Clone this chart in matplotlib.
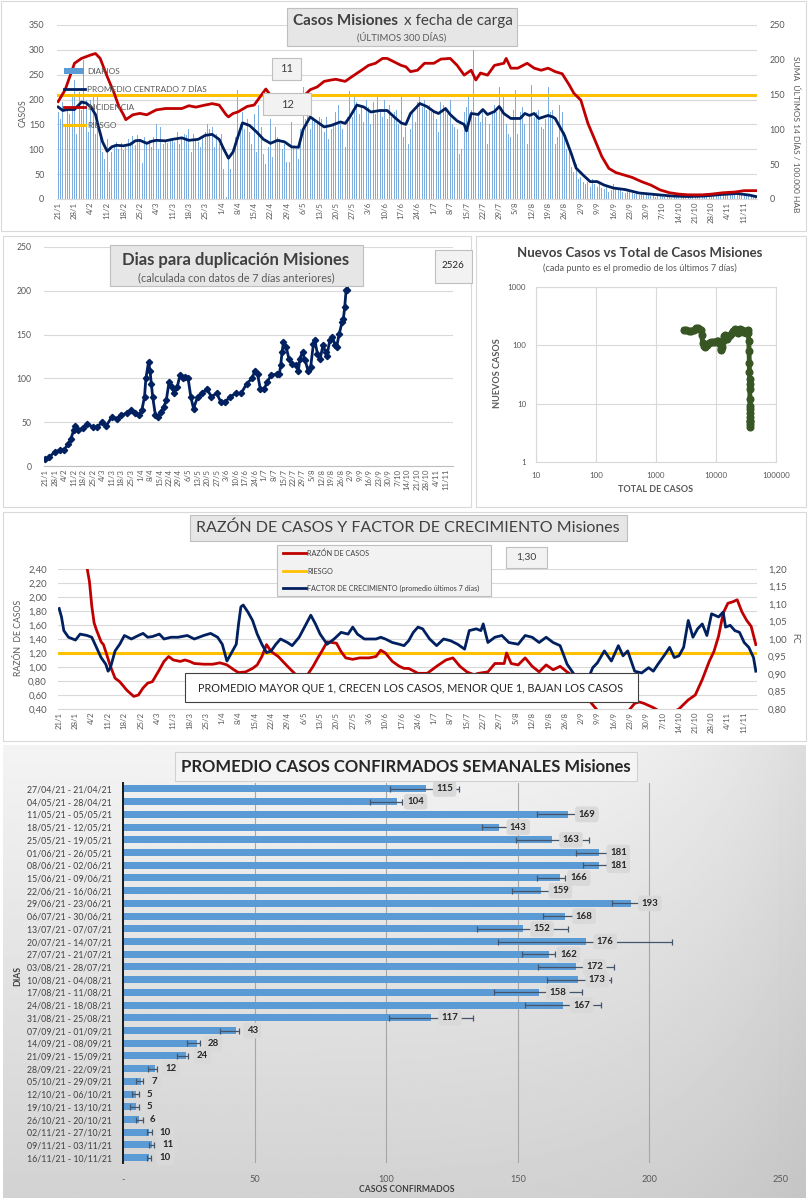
import numpy as np
import matplotlib
matplotlib.use("Agg")
import matplotlib.pyplot as plt
from matplotlib.patches import Rectangle
from matplotlib.lines import Line2D
from matplotlib.ticker import NullLocator
from datetime import datetime, timedelta

plt.rcParams["font.family"] = ["Lato", "DejaVu Sans"]

# ---------------- DATA ----------------
# daily cases from 21/1 (300 days)
daily = [
    175, 160, 195, 150, 185, 170, 210,   # 21/1
    240, 130, 215, 180, 280, 200, 135,   # 28/1
    200, 210, 130, 205, 125, 95, 80,     # 4/2
    120, 55, 95, 110, 115, 100, 112,     # 11/2
    98, 105, 120, 115, 126, 108, 128,    # 18/2
    120, 72, 125, 110, 118, 105, 125,    # 25/2
    150, 100, 145, 110, 115, 112, 120,   # 4/3
    118, 115, 135, 110, 125, 130, 128,   # 11/3
    140, 95, 130, 120, 115, 105, 125,    # 18/3
    135, 150, 140, 145, 105, 130, 110,   # 25/3
    130, 60, 5, 85, 60, 100, 125,        # 1/4
    220, 150, 175, 140, 160, 135, 110,   # 8/4
    170, 95, 190, 145, 90, 70, 105,      # 15/4
    160, 85, 145, 125, 120, 100, 110,    # 22/4
    75, 75, 155, 105, 100, 80, 140,      # 29/4
    225, 160, 180, 140, 165, 155, 150,   # 6/5
    165, 160, 135, 165, 120, 140, 150,   # 13/5
    175, 190, 150, 140, 105, 165, 218,   # 20/5
    165, 212, 195, 170, 190, 155, 200,   # 27/5
    185, 150, 195, 170, 205, 180, 165,   # 3/6
    200, 160, 190, 165, 175, 180, 150,   # 10/6
    205, 125, 145, 110, 140, 175, 155,   # 17/6
    195, 210, 185, 200, 180, 190, 175,   # 24/6
    180, 160, 135, 195, 190, 185, 170,   # 1/7
    200, 150, 145, 140, 90, 100, 175,    # 8/7
    185, 210, 180, 300, 165, 175, 155,   # 15/7
    180, 165, 110, 150, 170, 190, 175,   # 22/7
    225, 185, 205, 150, 130, 125, 180,   # 29/7
    220, 130, 175, 185, 150, 110, 165,   # 5/8
    230, 165, 175, 180, 145, 140, 160,   # 12/8
    225, 175, 180, 110, 125, 190, 175,   # 19/8
    135, 100, 95, 65, 55, 70, 40,        # 26/8
    45, 35, 30, 35, 25, 40, 30,          # 2/9
    25, 30, 22, 20, 28, 15, 18,          # 9/9
    30, 22, 18, 20, 15, 12, 16,          # 16/9
    15, 12, 10, 14, 8, 10, 9,            # 23/9
    9, 8, 6, 10, 5, 7, 8,                # 30/9
    6, 5, 4, 7, 3, 5, 4,                 # 7/10
    5, 4, 6, 3, 8, 5, 4,                 # 14/10
    10, 5, 6, 7, 8, 5, 9,                # 21/10
    12, 9, 8, 11, 10, 13, 9,             # 28/10
    12, 10, 14, 9, 11, 10, 12,           # 4/11
    10, 9, 11, 8, 7, 6]                  # 11/11

avg_dates = ["21/1", "23/1", "25/1", "28/1", "31/1", "2/2", "4/2", "6/2", "7/2", "9/2",
             "11/2", "13/2", "15/2", "18/2", "21/2", "23/2", "25/2", "28/2", "2/3", "4/3",
             "8/3", "11/3", "15/3", "18/3", "22/3", "25/3", "28/3", "31/3", "2/4", "4/4",
             "6/4", "8/4", "10/4", "13/4", "16/4", "19/4", "22/4", "25/4", "28/4", "1/5",
             "4/5", "6/5", "9/5", "12/5", "15/5", "18/5", "22/5", "24/5", "26/5", "29/5",
             "1/6", "4/6", "8/6", "11/6", "14/6", "17/6", "19/6", "21/6", "25/6", "28/6",
             "1/7", "3/7", "6/7", "8/7", "11/7", "14/7", "15/7", "17/7", "20/7", "22/7",
             "24/7", "27/7", "29/7", "31/7", "3/8", "7/8", "9/8", "11/8", "13/8", "15/8",
             "19/8", "21/8", "22/8", "24/8", "26/8", "29/8", "31/8", "3/9", "6/9", "9/9",
             "12/9", "16/9", "21/9", "27/9", "4/10", "11/10", "18/10", "25/10", "1/11", "8/11",
             "13/11", "16/11"]
avg_vals = [185, 178, 180, 180, 195, 193, 185, 170, 150, 115,
            96, 105, 108, 107, 110, 117, 118, 112, 116, 118,
            117, 120, 123, 118, 120, 128, 130, 120, 100, 82,
            95, 125, 153, 148, 135, 120, 112, 118, 115, 105,
            104, 140, 165, 155, 145, 148, 155, 152, 165, 189,
            185, 175, 178, 178, 165, 153, 150, 172, 192, 186,
            176, 172, 182, 170, 157, 150, 137, 172, 170, 180,
            170, 176, 186, 172, 162, 162, 172, 168, 172, 162,
            168, 165, 162, 145, 128, 90, 62, 48, 35, 35,
            28, 22, 19, 12, 9, 6, 5, 6, 9, 11,
            8, 5]

inc_dates = ["21/1", "24/1", "28/1", "31/1", "4/2", "6/2", "8/2", "11/2", "14/2", "16/2",
             "18/2", "19/2", "22/2", "25/2", "28/2", "4/3", "8/3", "11/3", "15/3", "18/3",
             "21/3", "25/3", "28/3", "31/3", "3/4", "4/4", "6/4", "8/4", "12/4", "15/4",
             "18/4", "20/4", "22/4", "28/4", "2/5", "6/5", "9/5", "12/5", "15/5", "18/5",
             "20/5", "24/5", "27/5", "31/5", "3/6", "6/6", "9/6", "11/6", "14/6", "17/6",
             "19/6", "21/6", "24/6", "27/6", "1/7", "4/7", "8/7", "11/7", "14/7", "17/7",
             "19/7", "21/7", "24/7", "27/7", "31/7", "1/8", "3/8", "6/8", "10/8", "13/8",
             "16/8", "19/8", "22/8", "25/8", "28/8", "30/8", "2/9", "5/9", "8/9", "11/9",
             "14/9", "17/9", "21/9", "24/9", "28/9", "2/10", "6/10", "10/10", "14/10", "18/10",
             "24/10", "28/10", "2/11", "7/11", "11/11", "16/11"]
inc_vals = [140, 157, 195, 202, 207, 209, 202, 176, 152, 133,
            121, 114, 121, 123, 121, 128, 130, 130, 130, 134,
            132, 135, 137, 135, 121, 118, 123, 125, 133, 135,
            149, 158, 149, 135, 138, 147, 157, 161, 169, 171,
            172, 169, 176, 185, 192, 195, 202, 202, 197, 192,
            190, 183, 185, 195, 195, 201, 202, 192, 178, 185,
            171, 181, 178, 192, 195, 202, 188, 188, 195, 188,
            185, 188, 183, 180, 164, 152, 142, 109, 85, 61,
            44, 38, 34, 31, 25, 20, 13, 9, 7, 6,
            6, 7, 9, 10, 12, 12]
riesgo_inc = 150

dbl_dates = ["21/1", "24/1", "28/1", "1/2", "4/2", "7/2", "9/2", "11/2", "12/2", "14/2",
             "18/2", "21/2", "25/2", "28/2", "4/3", "7/3", "11/3", "15/3", "18/3", "22/3",
             "25/3", "28/3", "31/3", "2/4", "4/4", "5/4", "7/4", "8/4", "9/4", "10/4",
             "12/4", "14/4", "16/4", "18/4", "20/4", "22/4", "24/4", "26/4", "28/4", "30/4",
             "2/5", "4/5", "6/5", "8/5", "10/5", "13/5", "16/5", "20/5", "23/5", "27/5",
             "30/5", "2/6", "6/6", "10/6", "14/6", "18/6", "22/6", "24/6", "26/6", "28/6",
             "1/7", "3/7", "6/7", "10/7", "12/7", "13/7", "14/7", "15/7", "17/7", "19/7",
             "21/7", "24/7", "26/7", "27/7", "29/7", "31/7", "2/8", "4/8", "6/8", "7/8",
             "9/8", "11/8", "13/8", "15/8", "16/8", "18/8", "20/8", "22/8", "23/8", "25/8",
             "27/8", "28/8", "29/8", "30/8", "31/8", "1/9"]
dbl_vals = [7.6, 10, 16, 18, 18.6, 25, 31, 41, 46, 41,
            43, 48, 44.5, 44.5, 50, 46, 56, 54, 58, 60.5,
            64, 60.5, 58, 63.5, 79, 100, 119, 109, 94, 79,
            58, 56, 62, 67, 75, 96, 90, 83, 90, 103.5,
            100, 101.6, 100, 79, 65.5, 79, 83, 88, 79, 83,
            73, 73, 79, 83, 83, 94, 100, 109, 105, 88,
            88, 96, 103.5, 105, 105, 115, 130, 141.5, 136, 122.5,
            117, 115, 109, 122.5, 130, 120.6, 109, 113, 139.6, 143.5,
            128, 122.5, 137.7, 130, 126, 143.5, 147, 137.7, 136, 151,
            164, 168, 181.5, 200.5, 200.5, 2526]
dbl_current = "2526"

sc_total = [2900, 3200, 3500, 3900, 4300, 4700, 5000, 5300, 5600, 5800,
            6000, 6200, 6600, 7100, 7700, 8300, 9000, 9700, 10400, 11000,
            11500, 11900, 12200, 12500, 12900, 13400, 14000, 14700, 15500, 16300,
            17200, 18200, 19300, 20500, 21700, 23000, 24300, 25600, 27000, 28400,
            29800, 31200, 32600, 33800, 34600, 35200, 35600, 35900, 36100, 36300,
            36450, 36600, 36700, 36800, 36900, 37000, 37100, 37200, 37300, 37400, 37500]
sc_new = [185, 180, 178, 176, 182, 195, 198, 190, 185, 150,
          110, 98, 95, 102, 108, 112, 115, 112, 118, 120,
          105, 88, 82, 95, 120, 145, 150, 135, 130, 145,
          150, 160, 175, 190, 175, 165, 180, 190, 180, 170,
          175, 165, 178, 180, 160, 120, 80, 50, 35, 27,
          22, 18, 12, 8, 6, 5, 4.5, 4, 5, 7, 9]

raz_dates = ["1/2", "2/2", "3/2", "4/2", "5/2", "6/2", "8/2", "9/2", "10/2", "12/2",
             "14/2", "16/2", "19/2", "22/2", "24/2", "26/2", "28/2", "2/3", "5/3", "7/3",
             "9/3", "11/3", "14/3", "16/3", "18/3", "20/3", "24/3", "28/3", "31/3", "3/4",
             "6/4", "8/4", "11/4", "14/4", "16/4", "18/4", "20/4", "22/4", "25/4", "27/4",
             "29/4", "2/5", "4/5", "6/5", "8/5", "10/5", "12/5", "14/5", "16/5", "18/5",
             "20/5", "22/5", "24/5", "27/5", "30/5", "3/6", "6/6", "8/6", "10/6", "13/6",
             "16/6", "18/6", "20/6", "24/6", "28/6", "2/7", "6/7", "9/7", "12/7", "15/7",
             "18/7", "20/7", "24/7", "27/7", "31/7", "1/8", "3/8", "6/8", "9/8", "12/8",
             "15/8", "18/8", "21/8", "24/8", "27/8", "30/8", "3/9", "6/9", "9/9", "15/9",
             "21/9", "25/9", "27/9", "29/9", "3/10", "6/10", "10/10", "14/10", "18/10", "21/10",
             "24/10", "27/10", "29/10", "31/10", "2/11", "4/11", "6/11", "8/11", "10/11", "12/11",
             "14/11", "16/11"]
raz_vals = [2.7, 2.41, 2.22, 1.87, 1.63, 1.53, 1.36, 1.32, 1.22, 1.01,
            0.84, 0.79, 0.67, 0.58, 0.60, 0.70, 0.77, 0.79, 0.96, 1.08,
            1.15, 1.10, 1.08, 1.10, 1.08, 1.05, 1.04, 1.04, 1.06, 1.03,
            0.96, 0.92, 0.93, 0.98, 1.03, 1.15, 1.32, 1.22, 1.15, 1.08,
            1.01, 0.91, 0.82, 0.84, 0.91, 1.01, 1.13, 1.24, 1.36, 1.35,
            1.34, 1.22, 1.13, 1.11, 1.13, 1.13, 1.15, 1.24, 1.20, 1.08,
            1.01, 0.98, 0.98, 0.91, 0.91, 1.01, 1.10, 1.13, 1.01, 0.93,
            0.89, 0.91, 0.93, 1.05, 1.05, 1.20, 1.05, 1.03, 1.13, 1.01,
            0.93, 1.03, 0.96, 1.01, 0.93, 0.86, 0.67, 0.50, 0.38, 0.30,
            0.32, 0.48, 0.50, 0.48, 0.42, 0.36, 0.33, 0.40, 0.53, 0.60,
            0.82, 1.08, 1.22, 1.44, 1.77, 1.91, 1.93, 1.96, 1.79, 1.67,
            1.58, 1.32]
riesgo_raz = 1.2

fc_dates = ["21/1", "22/1", "23/1", "25/1", "28/1", "30/1", "2/2", "4/2", "6/2", "8/2",
            "10/2", "11/2", "12/2", "14/2", "16/2", "18/2", "21/2", "24/2", "26/2", "28/2",
            "2/3", "5/3", "7/3", "10/3", "13/3", "17/3", "20/3", "24/3", "27/3", "30/3",
            "1/4", "3/4", "5/4", "7/4", "8/4", "9/4", "10/4", "12/4", "14/4", "16/4",
            "18/4", "20/4", "22/4", "24/4", "26/4", "29/4", "1/5", "4/5", "7/5", "9/5",
            "11/5", "13/5", "16/5", "19/5", "22/5", "25/5", "27/5", "29/5", "1/6", "3/6",
            "6/6", "8/6", "10/6", "13/6", "16/6", "18/6", "20/6", "22/6", "24/6", "26/6",
            "29/6", "2/7", "5/7", "8/7", "11/7", "14/7", "16/7", "19/7", "21/7", "22/7",
            "24/7", "27/7", "30/7", "2/8", "6/8", "9/8", "12/8", "15/8", "18/8", "21/8",
            "24/8", "27/8", "30/8", "2/9", "4/9", "7/9", "9/9", "12/9", "15/9", "18/9",
            "20/9", "22/9", "25/9", "28/9", "1/10", "3/10", "5/10", "8/10", "10/10", "12/10",
            "14/10", "16/10", "18/10", "20/10", "22/10", "24/10", "26/10", "28/10", "31/10", "2/11",
            "3/11", "5/11", "7/11", "9/11", "11/11", "13/11", "15/11", "16/11"]
fc_vals = [1.087, 1.063, 1.024, 1.005, 0.997, 1.014, 1.010, 1.005, 0.976, 0.947,
           0.928, 0.908, 0.918, 0.966, 0.985, 1.010, 1.000, 1.010, 1.016, 1.005,
           1.007, 1.014, 1.000, 1.005, 1.005, 1.010, 1.000, 1.010, 1.016, 1.005,
           0.985, 0.937, 0.961, 0.985, 1.043, 1.092, 1.097, 1.077, 1.053, 1.014,
           0.985, 0.961, 0.966, 0.985, 1.000, 0.990, 0.981, 1.005, 1.043, 1.068,
           1.043, 1.014, 0.985, 1.000, 1.019, 1.014, 1.034, 1.014, 1.000, 1.000,
           1.000, 1.005, 1.000, 0.990, 0.985, 0.981, 0.995, 1.019, 1.034, 1.029,
           1.000, 0.981, 1.000, 0.995, 0.985, 0.971, 1.024, 1.029, 1.024, 1.043,
           0.990, 1.005, 1.010, 0.990, 0.985, 1.010, 1.005, 0.990, 1.005, 0.990,
           0.981, 0.928, 0.899, 0.879, 0.870, 0.918, 0.932, 0.966, 0.937, 0.981,
           0.952, 0.966, 0.908, 0.903, 0.918, 0.908, 0.928, 0.956, 0.976, 0.947,
           0.952, 0.976, 1.053, 1.005, 1.029, 1.043, 1.010, 1.072, 1.063, 1.077,
           1.034, 1.039, 1.024, 1.019, 0.990, 0.976, 0.947, 0.908]
raz_current = "1,30"

wk_labels = ["27/04/21 - 21/04/21", "04/05/21 - 28/04/21", "11/05/21 - 05/05/21",
             "18/05/21 - 12/05/21", "25/05/21 - 19/05/21", "01/06/21 - 26/05/21",
             "08/06/21 - 02/06/21", "15/06/21 - 09/06/21", "22/06/21 - 16/06/21",
             "29/06/21 - 23/06/21", "06/07/21 - 30/06/21", "13/07/21 - 07/07/21",
             "20/07/21 - 14/07/21", "27/07/21 - 21/07/21", "03/08/21 - 28/07/21",
             "10/08/21 - 04/08/21", "17/08/21 - 11/08/21", "24/08/21 - 18/08/21",
             "31/08/21 - 25/08/21", "07/09/21 - 01/09/21", "14/09/21 - 08/09/21",
             "21/09/21 - 15/09/21", "28/09/21 - 22/09/21", "05/10/21 - 29/09/21",
             "12/10/21 - 06/10/21", "19/10/21 - 13/10/21", "26/10/21 - 20/10/21",
             "02/11/21 - 27/10/21", "09/11/21 - 03/11/21", "16/11/21 - 10/11/21"]
wk_vals = [115, 104, 169, 143, 163, 181, 181, 166, 159, 193, 168, 152, 176, 162, 172,
           173, 158, 167, 117, 43, 28, 24, 12, 7, 5, 5, 6, 10, 11, 10]
wk_low = [101.5, 94, 157.4, 136.5, 149.3, 172, 174.6, 157.4, 147.7, 185.7, 159.7, 134.6,
          142.4, 151.5, 157.8, 161, 141, 152.9, 101, 36.9, 24.4, 20.4, 9.6, 4.8, 3.3, 2.7,
          4.8, 9, 10, 9]
wk_high = [127.8, 106, 180, 147, 177, 184, 184, 168, 169.6, 196, 171, 169.2, 208.7, 164,
           186.7, 185.4, 174.5, 181.5, 133, 44.2, 29.3, 24.8, 12.8, 7.7, 6.2, 6.2, 7.5,
           10.9, 11.8, 10.5]

box_top_a = "11"
box_top_b = "12"

# ---------------- HELPERS ----------------
W, H = 808, 1200
fig = plt.figure(figsize=(W / 100, H / 100), dpi=100)
fig.patch.set_facecolor("white")

GRAY = "#595959"
DARK = "#404040"
NAVY = "#002060"
RED = "#C00000"
ORANGE = "#FFC000"
GRID = "#d9d9d9"
BASE = datetime(2021, 1, 21)


def fx(px):
    return px / W


def fy(py):
    return 1 - py / H


def axes_px(l, t, r, b, **kw):
    return fig.add_axes([l / W, 1 - b / H, (r - l) / W, (b - t) / H], **kw)


def rect_px(l, t, r, b, fc="none", ec="#bfbfbf", lw=0.8, z=2):
    fig.add_artist(Rectangle((fx(l), fy(b)), (r - l) / W, (b - t) / H,
                             transform=fig.transFigure, facecolor=fc,
                             edgecolor=ec, lw=lw, zorder=z))


def text_px(x, y, s, **kw):
    kw.setdefault("color", GRAY)
    kw.setdefault("ha", "center")
    kw.setdefault("va", "center")
    kw.setdefault("zorder", 4)
    fig.text(fx(x), fy(y), s, **kw)


def hline_px(x0, x1, y, color, lw):
    fig.add_artist(Line2D([fx(x0), fx(x1)], [fy(y), fy(y)],
                          transform=fig.transFigure, color=color, lw=lw, zorder=3))


def to_idx(labels):
    return np.array([(datetime.strptime(s + "/2021", "%d/%m/%Y") - BASE).days
                     for s in labels], dtype=float)


tick_pos = list(range(0, 295, 7))
tick_lab = []
for k in tick_pos:
    d = BASE + timedelta(days=k)
    tick_lab.append(f"{d.day}/{d.month}")


def date_axis(ax, left=-0.5):
    ax.set_xlim(left, 299.5)
    ax.set_xticks(tick_pos)
    ax.set_xticklabels(tick_lab, rotation=90, fontsize=5.6, color=GRAY)
    ax.tick_params(axis="x", length=0, pad=2)


# ---------------- PANEL 1 ----------------
rect_px(1, 1, 806, 231, ec=GRID, z=1)
ax1 = axes_px(57, 25, 757, 199)
ax1.bar(np.arange(len(daily)), daily, width=0.55, color="#7DAEDF", zorder=2)
ax1.plot(to_idx(avg_dates), avg_vals, color=NAVY, lw=2, zorder=3)
ax1.set_ylim(0, 350)
ax1.set_yticks(range(0, 351, 50))
ax1.grid(axis="y", color=GRID, lw=0.8)
ax1.set_axisbelow(True)
date_axis(ax1)
ax1.tick_params(axis="y", labelsize=6.5, colors=GRAY, length=0, pad=9)
for s in ["top", "left", "right"]:
    ax1.spines[s].set_visible(False)
ax1.spines["bottom"].set_color(GRID)
ax1r = ax1.twinx()
ax1r.set_ylim(0, 250)
ax1r.set_yticks(range(0, 251, 50))
ax1r.axhline(riesgo_inc, color=ORANGE, lw=2.2)
ax1r.plot(to_idx(inc_dates), inc_vals, color=RED, lw=2)
ax1r.tick_params(axis="y", labelsize=6.5, colors=GRAY, length=0, pad=9)
for s in ax1r.spines.values():
    s.set_visible(False)

rect_px(287, 8, 517, 46, fc="#e7e6e6", ec="#bfbfbf")
text_px(398, 21, "Casos Misiones", fontsize=11, fontweight="bold", color=DARK, ha="right")
text_px(404, 21, "x fecha de carga", fontsize=11, color=DARK, ha="left")
text_px(402, 37, "(ÚLTIMOS 300 DÍAS)", fontsize=6.8)
text_px(23, 113, "CASOS", fontsize=6.2, rotation=90)
text_px(796, 134, "SUMA  ÚLTIMOS 14 DÍAS / 100.000 HAB", fontsize=6, rotation=270)

fig.add_artist(Rectangle((fx(64), fy(74)), 20 / W, 6 / H, transform=fig.transFigure,
                         facecolor="#5B9BD5", edgecolor="none", zorder=3))
hline_px(64, 85, 89, NAVY, 2)
hline_px(64, 85, 107, RED, 2)
hline_px(64, 85, 125, ORANGE, 2.2)
for yy, lab in [(71, "DIARIOS"), (89, "PROMEDIO CENTRADO 7 DÍAS"),
                (107, "INCIDENCIA"), (125, "RIESGO")]:
    text_px(87, yy, lab, fontsize=6, ha="left")

rect_px(272, 58, 301, 80, fc="#f2f2f2", ec="#bfbfbf")
text_px(286.5, 69, box_top_a, fontsize=8, color=DARK)
rect_px(263, 93, 311, 115, fc="#f2f2f2", ec="#bfbfbf")
text_px(287, 104, box_top_b, fontsize=8, color=DARK)

# ---------------- PANEL 2 ----------------
rect_px(3, 236, 471, 507, ec=GRID, z=1)
ax2 = axes_px(44, 247, 453, 466)
ax2.plot(to_idx(dbl_dates), dbl_vals, color=NAVY, lw=2, marker="D", ms=3.2)
ax2.set_ylim(0, 250)
ax2.set_yticks(range(0, 251, 50))
ax2.grid(axis="y", color=GRID, lw=0.8)
ax2.set_axisbelow(True)
date_axis(ax2, left=-0.8)
ax2.tick_params(axis="y", labelsize=6.2, colors=GRAY, length=0, pad=9)
for s in ["top", "left", "right"]:
    ax2.spines[s].set_visible(False)
ax2.spines["bottom"].set_color("#bfbfbf")
rect_px(110, 245, 363, 286, fc="#e7e6e6", ec="#bfbfbf")
text_px(236, 260, "Dias para duplicación Misiones", fontsize=12, fontweight="bold", color=DARK)
text_px(236, 278, "(calculada con datos de 7 días anteriores)", fontsize=7.8)
rect_px(435, 250, 472, 283, fc="#f2f2f2", ec="#bfbfbf")
text_px(453, 266, dbl_current, fontsize=7, color="#262626")

# ---------------- PANEL 3 ----------------
rect_px(476, 236, 806, 507, ec=GRID, z=1)
ax3 = axes_px(536, 287, 776, 462)
ax3.set_xscale("log")
ax3.set_yscale("log")
ax3.plot(sc_total, sc_new, color="#375623", lw=3.5, marker="o", ms=4.8)
ax3.set_xlim(10, 100000)
ax3.set_ylim(1, 1000)
ax3.set_xticks([10, 100, 1000, 10000, 100000])
ax3.set_xticklabels(["10", "100", "1000", "10000", "100000"])
ax3.set_yticks([1, 10, 100, 1000])
ax3.set_yticklabels(["1", "10", "100", "1000"])
ax3.xaxis.set_minor_locator(NullLocator())
ax3.yaxis.set_minor_locator(NullLocator())
ax3.grid(which="major", color=GRID, lw=0.8)
ax3.set_axisbelow(True)
ax3.tick_params(labelsize=5.8, colors=GRAY, length=0, pad=7)
for s in ax3.spines.values():
    s.set_color(GRID)
text_px(640, 253, "Nuevos Casos vs Total de Casos Misiones", fontsize=9.5,
        fontweight="bold", color=DARK)
text_px(640, 268, "(cada punto es el promedio de los últimos 7 días)", fontsize=6.6)
text_px(656, 489, "TOTAL DE CASOS", fontsize=6.5, fontweight="bold")
text_px(498, 373, "NUEVOS CASOS", fontsize=6.6, fontweight="bold", rotation=90)

# ---------------- PANEL 4 ----------------
rect_px(3, 512, 806, 741, ec=GRID, z=1)
ax4 = axes_px(58, 569, 757, 709)
ax4.plot(to_idx(raz_dates), raz_vals, color=RED, lw=2, zorder=3)
ax4.axhline(riesgo_raz, color=ORANGE, lw=2.2, zorder=2)
ax4.set_ylim(0.4, 2.4)
yt = np.round(np.arange(0.4, 2.41, 0.2), 2)
ax4.set_yticks(yt)
ax4.set_yticklabels([f"{v:.2f}".replace(".", ",") for v in yt])
ax4.grid(axis="y", color=GRID, lw=0.8)
ax4.set_axisbelow(True)
date_axis(ax4)
ax4.tick_params(axis="y", labelsize=6.8, colors=GRAY, length=0, pad=8)
for s in ["top", "left", "right"]:
    ax4.spines[s].set_visible(False)
ax4.spines["bottom"].set_color(GRID)
ax4r = ax4.twinx()
ax4r.plot(to_idx(fc_dates), fc_vals, color=NAVY, lw=2)
ax4r.set_ylim(0.8, 1.2)
yt2 = np.round(np.arange(0.8, 1.201, 0.05), 2)
ax4r.set_yticks(yt2)
ax4r.set_yticklabels([f"{v:.2f}".replace(".", ",") for v in yt2])
ax4r.tick_params(axis="y", labelsize=6.8, colors=GRAY, length=0, pad=8)
for s in ax4r.spines.values():
    s.set_visible(False)

rect_px(190, 515, 627, 541, fc="#e7e6e6", ec="#bfbfbf")
text_px(408, 528, "RAZÓN DE CASOS Y FACTOR DE CRECIMIENTO Misiones", fontsize=11.5, color=DARK)
rect_px(277, 545, 491, 596, fc="#f2f2f2", ec="#bfbfbf")
hline_px(283, 306, 553, RED, 2)
hline_px(283, 306, 571, ORANGE, 2)
hline_px(283, 306, 588, NAVY, 2)
text_px(307, 553, "RAZÓN DE CASOS", fontsize=5.2, ha="left", color=DARK)
text_px(307, 571, "RIESGO", fontsize=5.2, ha="left", color=DARK)
text_px(307, 588, "FACTOR DE CRECIMIENTO (promedio últimos 7 días)", fontsize=5.2,
        ha="left", color=DARK)
rect_px(506, 547, 547, 568, fc="#f2f2f2", ec="#bfbfbf")
text_px(526.5, 557.5, raz_current, fontsize=7.5, color=DARK)
rect_px(185, 673, 638, 702, fc="white", ec="#404040", lw=0.8)
text_px(411, 688, "PROMEDIO MAYOR QUE 1, CRECEN LOS CASOS, MENOR QUE 1, BAJAN LOS CASOS",
        fontsize=7.8, color="#262626")
text_px(19, 638, "RAZÓN  DE CASOS", fontsize=6.3, rotation=90)
text_px(795, 638, "FC", fontsize=6.3, rotation=270)

# ---------------- PANEL 5 ----------------
axbg = axes_px(3, 745, 806, 1198)
axbg.set_zorder(-1)
yy_, xx_ = np.mgrid[0:1:200j, 0:1:300j]
grad = 0.955 - 0.13 * yy_ - 0.09 * xx_ ** 6 * (1 - 0.4 * yy_)
axbg.imshow(grad, cmap="gray", vmin=0, vmax=1, aspect="auto",
            extent=[0, 1, 0, 1], interpolation="bilinear")
axbg.set_axis_off()

ax5 = axes_px(123, 783, 781, 1163)
ax5.set_facecolor("none")
yp = np.arange(len(wk_vals))
err = [np.array(wk_vals) - np.array(wk_low), np.array(wk_high) - np.array(wk_vals)]
ax5.barh(yp, wk_vals, height=0.55, color="#5B9BD5", zorder=2,
         xerr=err, error_kw=dict(ecolor="#44546A", elinewidth=0.9, capsize=2,
                                 capthick=0.9, zorder=3))
for i, v in enumerate(wk_vals):
    ax5.text(v + 4.0, i, str(v), va="center", ha="left", fontsize=6.9,
             fontweight="bold", color="#262626", zorder=5,
             bbox=dict(boxstyle="round,pad=0.35", fc="#d9d9d9", ec="none"))
ax5.set_xlim(0, 250)
ax5.set_ylim(29.42, -0.47)
ax5.set_xticks(range(0, 251, 50))
ax5.set_xticklabels(["-", "50", "100", "150", "200", "250"])
ax5.set_yticks(yp)
ax5.set_yticklabels(wk_labels)
ax5.grid(axis="x", color="#a6a6a6", lw=0.8)
ax5.set_axisbelow(True)
ax5.tick_params(axis="x", labelsize=6.6, colors=GRAY, length=0, pad=9)
ax5.tick_params(axis="y", labelsize=6.3, colors=DARK, length=0, pad=8)
for s in ["top", "right", "bottom"]:
    ax5.spines[s].set_visible(False)
ax5.spines["left"].set_color("#1a1a1a")
ax5.spines["left"].set_linewidth(1.4)

rect_px(175, 752, 637, 781, fc="#f4f4f4", ec="#d0d0d0")
text_px(406, 767, "PROMEDIO CASOS CONFIRMADOS SEMANALES Misiones", fontsize=12,
        fontweight="bold", color="#262626")
text_px(407, 1189, "CASOS CONFIRMADOS", fontsize=6.2, fontweight="bold", color=DARK)
text_px(18, 976, "DIAS", fontsize=6.2, fontweight="bold", color=DARK, rotation=90)

fig.savefig("out.png", dpi=100, facecolor="white")
